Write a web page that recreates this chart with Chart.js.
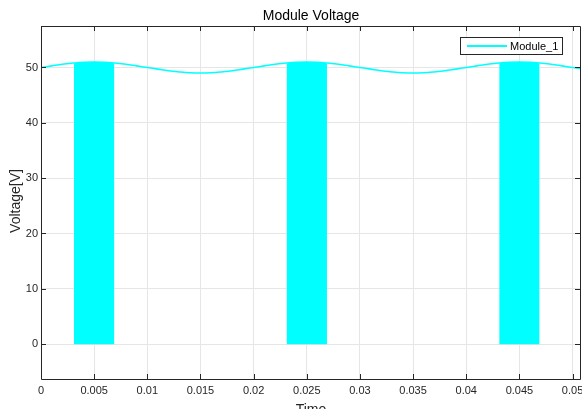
<!DOCTYPE html>
<html lang="en">
<head>
    <meta charset="UTF-8">
    <title>Module Voltage</title>
    <script src="https://cdn.jsdelivr.net/npm/chart.js@4.4.1/dist/chart.umd.min.js"></script>
    <style>
        html, body { margin: 0; padding: 0; background: #fff; }
        #wrap { width: 582px; height: 409px; }
    </style>
</head>
<body>
<div id="wrap"><canvas id="voltChart" width="582" height="409"></canvas></div>
<script>
    const timeS = [
        0, 0.001, 0.002, 0.003, 0.004, 0.005, 0.006, 0.007, 0.008, 0.009,
        0.010, 0.011, 0.012, 0.013, 0.014, 0.015, 0.016, 0.017, 0.018, 0.019,
        0.020, 0.021, 0.022, 0.023, 0.024, 0.025, 0.026, 0.027, 0.028, 0.029,
        0.030, 0.031, 0.032, 0.033, 0.034, 0.035, 0.036, 0.037, 0.038, 0.039,
        0.040, 0.041, 0.042, 0.043, 0.044, 0.045, 0.046, 0.047, 0.048, 0.049,
        0.050, 0.051
    ];
    const voltage = [
        50.0, 50.3, 50.6, 50.8, 50.95, 51.0, 50.95, 50.8, 50.6, 50.3,
        50.0, 49.7, 49.4, 49.2, 49.05, 49.0, 49.05, 49.2, 49.4, 49.7,
        50.0, 50.3, 50.6, 50.8, 50.95, 51.0, 50.95, 50.8, 50.6, 50.3,
        50.0, 49.7, 49.4, 49.2, 49.05, 49.0, 49.05, 49.2, 49.4, 49.7,
        50.0, 50.3, 50.6, 50.8, 50.95, 51.0, 50.95, 50.8, 50.6, 50.3,
        50.0, 49.7
    ];

    // switching bursts (drawn as filled blocks down to 0 V)
    const pulseTimes = [
        [0.0031, 0.004, 0.005, 0.006, 0.0069],
        [0.0231, 0.024, 0.025, 0.026, 0.0269],
        [0.0431, 0.044, 0.045, 0.046, 0.0469]
    ];
    const pulseTops = [
        [50.75, 50.95, 51.0, 50.95, 50.75],
        [50.75, 50.95, 51.0, 50.95, 50.75],
        [50.75, 50.95, 51.0, 50.95, 50.75]
    ];

    const xTicks = [0, 0.005, 0.01, 0.015, 0.02, 0.025, 0.03, 0.035, 0.04, 0.045, 0.05];
    const yTicks = [0, 10, 20, 30, 40, 50];

    const CYAN = '#00ffff';
    const AXIS = '#262626';
    const FONT = '"Liberation Sans", Arial, sans-serif';

    const toXY = (xs, ys) => xs.map((x, i) => ({ x: x, y: ys[i] }));

    const datasets = [{
        label: 'Module_1',
        data: toXY(timeS, voltage),
        borderColor: CYAN,
        borderWidth: 1.6,
        pointRadius: 0,
        tension: 0.4,
        fill: false
    }];
    pulseTimes.forEach((ts, i) => {
        datasets.push({
            label: 'pulse' + i,
            data: toXY(ts, pulseTops[i]),
            borderColor: CYAN,
            backgroundColor: CYAN,
            borderWidth: 0,
            pointRadius: 0,
            tension: 0,
            fill: 'origin'
        });
    });

    // MATLAB-like box, inward ticks, titles and legend
    const matlabFrame = {
        id: 'matlabFrame',
        afterDraw(chart) {
            const c = chart.ctx;
            const a = chart.chartArea;
            const sx = chart.scales.x, sy = chart.scales.y;
            c.save();
            c.strokeStyle = AXIS;
            c.lineWidth = 1;
            c.beginPath();
            c.rect(Math.round(a.left) + 0.5, Math.round(a.top) + 0.5,
                   Math.round(a.right - a.left), Math.round(a.bottom - a.top));
            xTicks.forEach(v => {
                const px = Math.round(sx.getPixelForValue(v)) + 0.5;
                c.moveTo(px, a.bottom); c.lineTo(px, a.bottom - 5);
                c.moveTo(px, a.top); c.lineTo(px, a.top + 5);
            });
            yTicks.forEach(v => {
                const py = Math.round(sy.getPixelForValue(v)) + 0.5;
                c.moveTo(a.left, py); c.lineTo(a.left + 5, py);
                c.moveTo(a.right, py); c.lineTo(a.right - 5, py);
            });
            c.stroke();

            // titles
            c.fillStyle = '#000';
            c.textAlign = 'center';
            c.textBaseline = 'middle';
            c.font = '14px ' + FONT;
            c.fillText('Module Voltage', 311, 16);
            c.fillStyle = AXIS;
            c.fillText('Time', 311, 410);
            c.save();
            c.translate(16, 201);
            c.rotate(-Math.PI / 2);
            c.fillText('Voltage[V]', 0, 0);
            c.restore();

            // legend
            c.fillStyle = '#fff';
            c.fillRect(460.5, 37.5, 102, 17);
            c.strokeStyle = AXIS;
            c.strokeRect(460.5, 37.5, 102, 17);
            c.strokeStyle = CYAN;
            c.lineWidth = 2;
            c.beginPath();
            c.moveTo(467, 46); c.lineTo(507, 46);
            c.stroke();
            c.fillStyle = '#000';
            c.textAlign = 'left';
            c.font = '11px ' + FONT;
            c.fillText('Module_1', 510, 46.5);
            c.restore();
        }
    };

    const fmt = v => String(Number(v.toFixed(4)));

    new Chart(document.getElementById('voltChart').getContext('2d'), {
        type: 'line',
        data: { datasets: datasets },
        options: {
            responsive: false,
            animation: false,
            devicePixelRatio: 1,
            layout: { padding: { top: 26, right: 2, left: 0, bottom: 0 } },
            plugins: {
                legend: { display: false },
                tooltip: { enabled: false },
                title: { display: false }
            },
            scales: {
                x: {
                    type: 'linear',
                    min: 0,
                    max: 0.0507,
                    afterBuildTicks: s => { s.ticks = xTicks.map(v => ({ value: v })); },
                    afterFit: s => {
                        s.height = 30;
                        s.paddingLeft = 0;
                        s.paddingRight = 0;
                    },
                    grid: { color: '#e6e6e6', drawTicks: false },
                    border: { display: false },
                    ticks: {
                        callback: v => fmt(v),
                        color: AXIS,
                        font: { family: FONT, size: 11 },
                        padding: 5,
                        maxRotation: 0,
                        autoSkip: false
                    }
                },
                y: {
                    min: -6.3,
                    max: 57.5,
                    afterBuildTicks: s => { s.ticks = yTicks.map(v => ({ value: v })); },
                    afterFit: s => {
                        s.width = 41;
                        s.paddingTop = 0;
                        s.paddingBottom = 0;
                    },
                    grid: { color: '#e6e6e6', drawTicks: false },
                    border: { display: false },
                    ticks: {
                        color: AXIS,
                        font: { family: FONT, size: 11 },
                        padding: 3
                    }
                }
            }
        },
        plugins: [matlabFrame]
    });
</script>
</body>
</html>
